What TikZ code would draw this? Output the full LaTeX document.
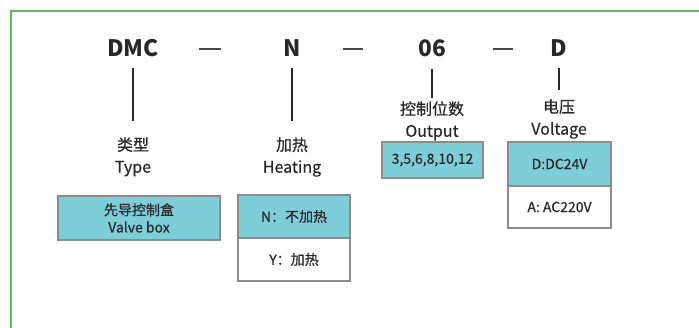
\documentclass[tikz,border=0pt]{standalone}
\usepackage{fontspec}
\setmainfont{Noto Sans CJK SC}
\newfontfamily\medfont[FakeBold=0.5]{Noto Sans CJK SC}
\usetikzlibrary{positioning}
\definecolor{framegreen}{RGB}{98,186,92}
\definecolor{cellcyan}{RGB}{126,206,218}
\definecolor{inkgrey}{RGB}{40,40,40}

\begin{document}
\begin{tikzpicture}[
  x=0.75pt, y=-0.75pt,
  code/.style={font=\fontsize{17}{20}\selectfont\bfseries, text=inkgrey,
               inner sep=0pt, anchor=base},
  sepdash/.style={text=inkgrey!85, inner sep=0pt},
  lbl/.style={font=\fontsize{12}{16.5}\selectfont\medfont, text=inkgrey,
              align=center, inner sep=0pt, anchor=north},
  cell/.style={draw=black!45, line width=1.1pt, fill=cellcyan,
               font=\fontsize{10.5}{13}\selectfont\medfont, text=inkgrey,
               align=center, inner sep=0pt, outer sep=0pt},
  whitecell/.style={cell, fill=white},
  tick/.style={draw=inkgrey, line width=1.6pt}
]
\useasboundingbox (0,0) rectangle (699,328);

% ==================== Frame ====================
\draw[framegreen, line width=1.6pt] (11,328) -- (11,11) -- (699,11);

% ==================== Model code ====================
\node[code] (dmc) at (133,57) {DMC};
\node[sepdash] (d1) at (210,49) {\rule{16.5pt}{1.5pt}};
\node[code] (n)   at (292,57) {N};
\node[sepdash] (d2) at (353,49) {\rule{15pt}{1.5pt}};
\node[code] (six) at (432,56) {06};
\node[sepdash] (d3) at (502.5,49) {\rule{15pt}{1.5pt}};
\node[code] (d)   at (559,57) {D};

% ==================== Labels ====================
\node[lbl] (type)    at (133,137) {类型\\Type};
\node[lbl] (heating) at (292,137) {加热\\Heating};
\node[lbl] (output)  at (432,101) {控制位数\\Output};
\node[lbl] (voltage) at (559,99)  {电压\\Voltage};

% ==================== Option boxes ====================
\node[cell, minimum width=121.5pt, minimum height=33pt] (valve) at (139,218)
  {先导控制盒\\Valve box};

\node[cell, minimum width=84pt, minimum height=32.25pt] (hn) at (294,216.5)
  {N：不加热};
\node[whitecell, minimum width=84pt, minimum height=32.25pt, below=0pt of hn] (hy)
  {Y：加热};

\node[cell, minimum width=75.75pt, minimum height=27pt] (outs) at (432.5,160)
  {3,5,6,8,10,12};

\node[cell, minimum width=77.25pt, minimum height=33pt] (vd) at (559.5,164)
  {D:DC24V};
\node[whitecell, minimum width=77.25pt, minimum height=31.5pt, below=0pt of vd] (va)
  {A: AC220V};

% ==================== Leader lines ====================
\draw[tick, shorten <=8pt, shorten >=12pt] (dmc.south) -- (dmc.south |- type.north);
\draw[tick, shorten <=8pt, shorten >=12pt] (n.south) -- (n.south |- heating.north);
\draw[tick, shorten <=9pt, shorten >=2pt] (six.south) -- (six.south |- output.north);
\draw[tick, shorten <=8pt, shorten >=7pt] (d.south) -- (d.south |- voltage.north);

\end{tikzpicture}
\end{document}
